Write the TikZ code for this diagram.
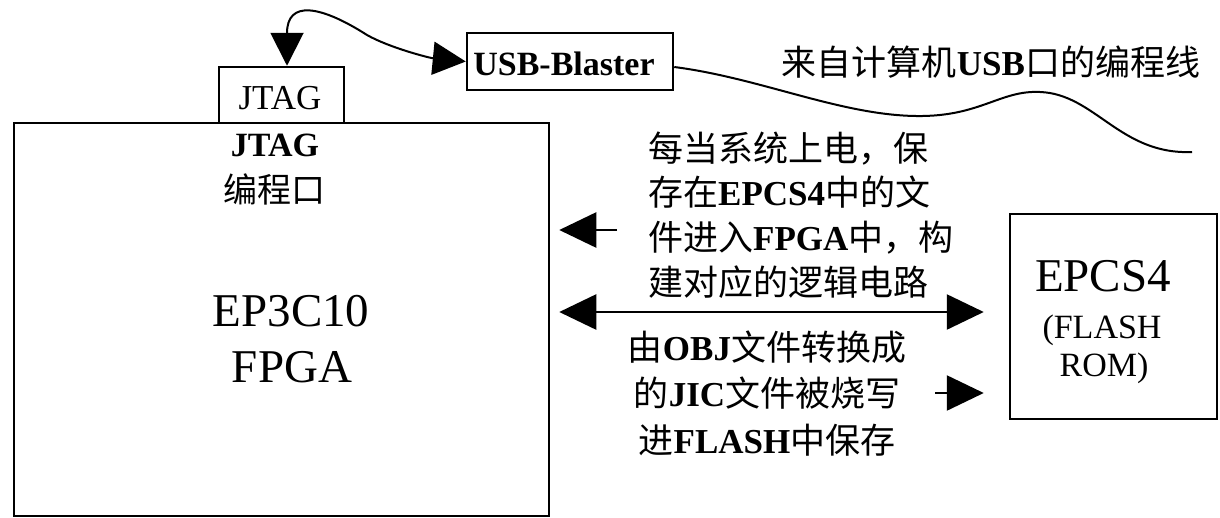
\documentclass[tikz,border=0pt]{standalone}
\usepackage{fontspec}
\setmainfont{Liberation Serif}
\newfontfamily\cjk{Noto Sans CJK SC}
\usetikzlibrary{arrows.meta}
\newcommand\zh[1]{{\cjk #1}}
\newcommand\fs[1]{\fontsize{#1}{#1}\selectfont}
\begin{document}
\begin{tikzpicture}[x=1pt,y=-1pt,
  box/.style={draw=black, line width=2.5pt, inner sep=0pt},
  arr/.style={-{Triangle[length=37pt,width=35pt]}, line width=2.5pt},
  darr/.style={{Triangle[length=37pt,width=35pt]}-{Triangle[length=37pt,width=35pt]}, line width=2.5pt},
  carr/.style={{Triangle[length=33pt,width=33pt]}-{Triangle[length=33pt,width=33pt]}, line width=2pt},
  wire/.style={line width=2pt},
  txt/.style={inner sep=0pt}]
\useasboundingbox (0,0) rectangle (1220,517);
% boxes
\node[box, minimum width=535pt, minimum height=393pt] (fpga) at (281.5,319.5) {};
\node[box, minimum width=125pt, minimum height=56pt, fill=white] (jtag) at (281.5,95) {};
\node[box, minimum width=206pt, minimum height=57pt] (usb) at (570,61.5) {};
\node[box, minimum width=207pt, minimum height=205pt] (epcs) at (1113.5,316.5) {};
% texts
\node[txt, font=\fs{35}] (jtagtxt) at (280,98) {JTAG};
\node[txt, font=\fs{34}\bfseries] (jtagb) at (275,145) {JTAG};
\node[txt, font=\fs{34}\cjk] (port) at (274,189) {编程口};
\node[txt, font=\fs{47}] (chip1) at (291,311) {EP3C10};
\node[txt, font=\fs{47}] (chip2) at (292,367) {FPGA};
\node[txt, font=\fs{34}\bfseries] (usbt) at (564,63.5) {USB-Blaster};
\node[txt, font=\fs{47}] (ep1) at (1103,276) {EPCS4};
\node[txt, font=\fs{34}] (ep2) at (1102,330) {(FLASH};
\node[txt, font=\fs{34}] (ep3) at (1104,368.5) {ROM)};
\node[txt, font=\fs{35}] (cable) at (991,62) {\zh{来自计算机}\textbf{USB}\zh{口的编程线}};
\node[txt, font=\fontsize{35}{44.7}\selectfont, align=left, anchor=west] (t1) at (648,215)
  {\zh{每当系统上电，保}\\\zh{存在}\textbf{EPCS4}\zh{中的文}\\\zh{件进入}\textbf{FPGA}\zh{中，构}\\\zh{建对应的逻辑电路}};
\node[txt, font=\fontsize{35}{46.5}\selectfont, align=center] (t2) at (767,393.5)
  {\zh{由}\textbf{OBJ}\zh{文件转换成}\\\zh{的}\textbf{JIC}\zh{文件被烧写}\\\zh{进}\textbf{FLASH}\zh{中保存}};
% arrows
\coordinate (a1) at (617,230);
\coordinate (y2) at (0,312);
\coordinate (a3) at (935,393);
\draw[arr, shorten >=9pt] (a1) -- (a1 -| fpga.east);
\draw[darr, shorten <=9pt, shorten >=25pt] (fpga.east |- y2) -- (epcs.west |- y2);
\draw[arr, shorten >=25pt] (a3) -- (a3 -| epcs.west);
% cable
\draw[carr] ([xshift=5.5pt]jtag.north) .. controls (287,0) and (320,5) .. (367,35)
  .. controls (390,48) and (430,58) .. (usb.west);
\coordinate (cend) at (1192,152);
\draw[wire] ([yshift=-5.5pt]usb.east) .. controls (760,78) and (840,115) .. (916,116)
  .. controls (980,117) and (1000,90) .. (1040,92)
  .. controls (1095,94) and (1120,155) .. (cend);
\end{tikzpicture}
\end{document}
